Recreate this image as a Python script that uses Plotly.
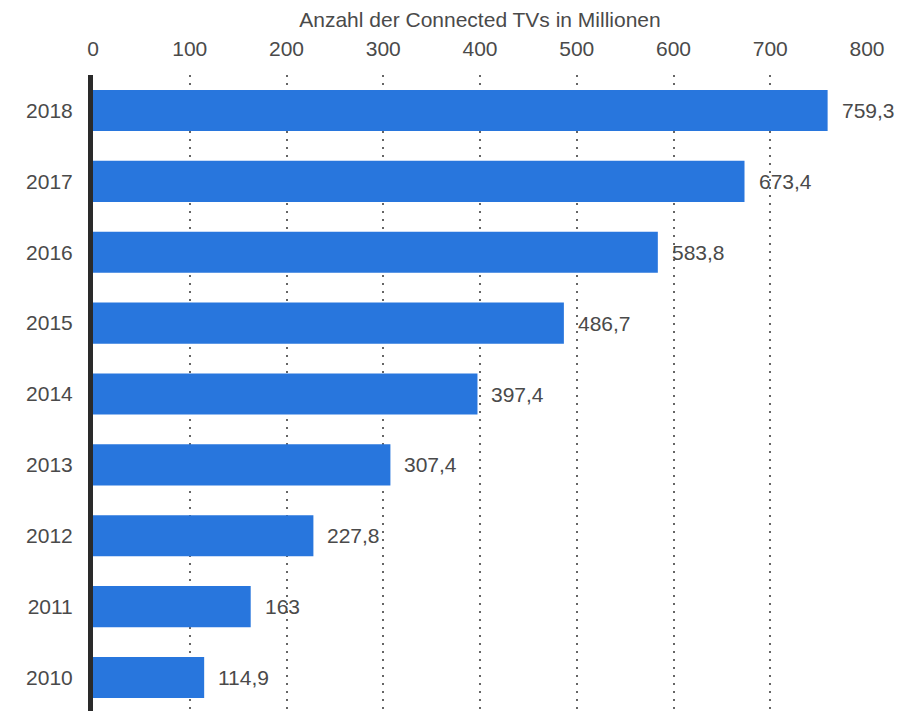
import plotly.graph_objects as go

years = ["2010", "2011", "2012", "2013", "2014", "2015", "2016", "2017", "2018"]
values = [114.9, 163, 227.8, 307.4, 397.4, 486.7, 583.8, 673.4, 759.3]
labels = ["114,9", "163", "227,8", "307,4", "397,4", "486,7", "583,8", "673,4", "759,3"]
x_ticks = [0, 100, 200, 300, 400, 500, 600, 700, 800]
x_title = "Anzahl der Connected TVs in Millionen"

FONT = "Liberation Sans, Arial, sans-serif"
TXT = "#4a4a4a"

fig = go.Figure()
fig.add_trace(go.Bar(
    x=values, y=list(range(len(years))), orientation="h",
    marker=dict(color="#2876dd", line=dict(width=0)),
    width=0.58,
    hoverinfo="skip",
))

for i, (v, t) in enumerate(zip(values, labels)):
    fig.add_annotation(x=v, y=i, xref="x", yref="y", text=t, showarrow=False,
                       xanchor="left", xshift=12,
                       font=dict(family=FONT, size=21, color=TXT))

fig.update_layout(
    width=910, height=711,
    margin=dict(l=85, r=51, t=67, b=6),
    paper_bgcolor="white", plot_bgcolor="white",
    showlegend=False,
    xaxis=dict(
        side="top", range=[0, 800], tickvals=x_ticks, automargin=False,
        showgrid=True, gridcolor="#666666", griddash="2px,6px", gridwidth=2,
        zeroline=False, showline=False,
        ticks="outside", ticklen=10, tickcolor="rgba(0,0,0,0)",
        tickfont=dict(family=FONT, size=21, color=TXT),
        title=dict(text=x_title, font=dict(family=FONT, size=21, color=TXT), standoff=7),
    ),
    yaxis=dict(
        range=[-0.5, 8.5], automargin=False,
        tickvals=list(range(len(years))), ticktext=years,
        showgrid=False, zeroline=False,
        showline=True, linecolor="#2a2a2a", linewidth=5,
        ticks="outside", ticklen=11, tickcolor="rgba(0,0,0,0)",
        tickfont=dict(family=FONT, size=21, color=TXT),
    ),
)

fig.write_html("out.html")
